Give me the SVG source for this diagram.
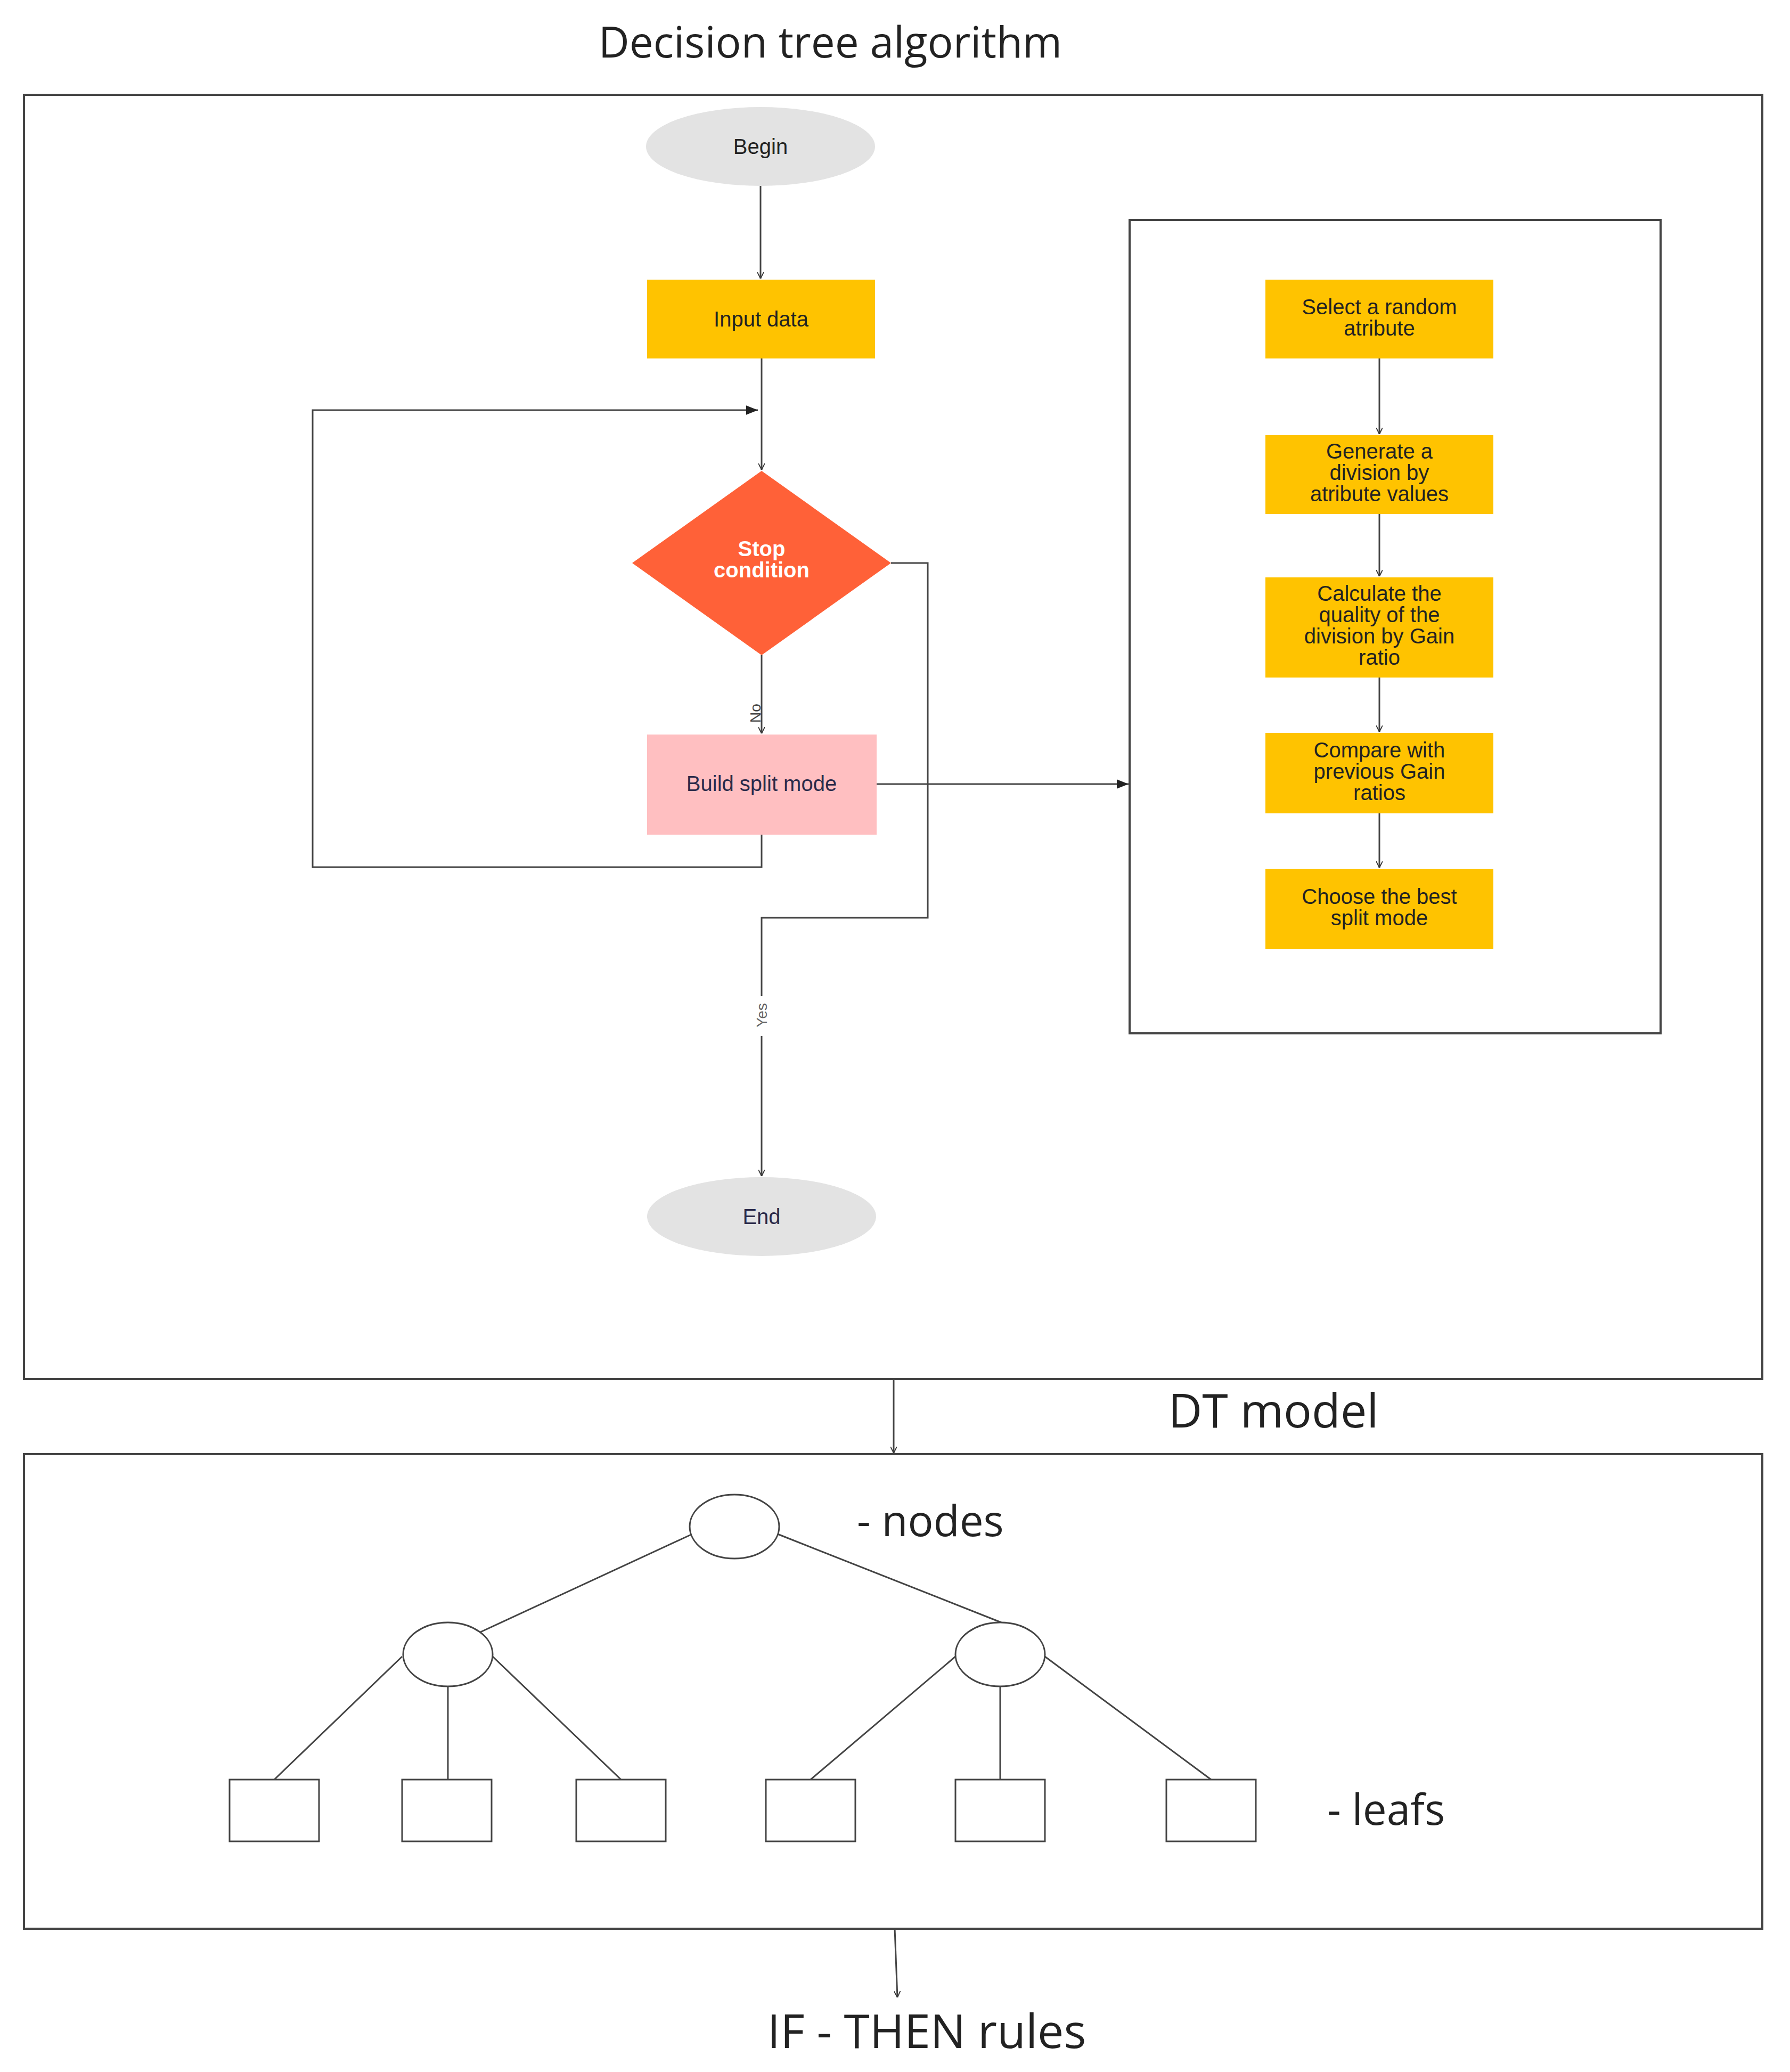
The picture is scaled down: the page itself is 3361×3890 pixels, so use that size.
<svg xmlns="http://www.w3.org/2000/svg" width="3361" height="3890" viewBox="0 0 3361 3890">
<defs>
<marker id="ah" viewBox="0 0 10 10" refX="10" refY="5" markerWidth="12" markerHeight="12" markerUnits="userSpaceOnUse" orient="auto"><path d="M0,0 L10,5 L0,10" fill="none" stroke="#333" stroke-width="1.5"/></marker>
<marker id="af" viewBox="0 0 10 10" refX="10" refY="5" markerWidth="22" markerHeight="22" markerUnits="userSpaceOnUse" orient="auto"><path d="M0,1 L10,5 L0,9 z" fill="#222"/></marker>
</defs>
<style>
.big{font-family:"Open Sans",sans-serif;fill:#222}
.t{font-family:"Liberation Sans",Arial,sans-serif;font-size:40px;text-anchor:middle;fill:#222}
.box{fill:none;stroke:#444;stroke-width:4}
.y{fill:#FFC300}
.ln{fill:none;stroke:#444;stroke-width:3}
.tr{fill:#fff;stroke:#444;stroke-width:3}
</style>
<rect width="3361" height="3890" fill="#fff"/>
<text class="big" x="1559" y="108" font-size="80" text-anchor="middle">Decision tree algorithm</text>
<rect class="box" x="45" y="178" width="3264" height="2411"/>
<rect class="box" x="2121" y="413" width="997" height="1527"/>
<g id="connectors">
<line class="ln" x1="1428" y1="349" x2="1428" y2="523" marker-end="url(#ah)"/>
<line class="ln" x1="1430" y1="673" x2="1430" y2="882" marker-end="url(#ah)"/>
<line class="ln" x1="1430" y1="1230" x2="1430" y2="1377" marker-end="url(#ah)"/>
<text x="1420" y="1339" font-family="Liberation Sans,sans-serif" font-size="28" fill="#444" text-anchor="middle" transform="rotate(-90 1420 1339)" dy="8">No</text>
<polyline class="ln" points="1430,1567 1430,1628 587,1628 587,770 1423,770" marker-end="url(#af)"/>
<polyline class="ln" points="1673,1057 1742,1057 1742,1723 1430,1723 1430,2208" marker-end="url(#ah)"/>
<rect x="1410" y="1870" width="40" height="75" fill="#fff"/>
<text x="1430" y="1906" font-family="Liberation Sans,sans-serif" font-size="28" fill="#666" text-anchor="middle" transform="rotate(-90 1430 1906)" dy="10">Yes</text>
<line class="ln" x1="1646" y1="1472" x2="2119" y2="1472" marker-end="url(#af)"/>
<line class="ln" x1="2590" y1="673" x2="2590" y2="815" marker-end="url(#ah)"/>
<line class="ln" x1="2590" y1="965" x2="2590" y2="1082" marker-end="url(#ah)"/>
<line class="ln" x1="2590" y1="1272" x2="2590" y2="1374" marker-end="url(#ah)"/>
<line class="ln" x1="2590" y1="1527" x2="2590" y2="1629" marker-end="url(#ah)"/>
<line class="ln" x1="1678" y1="2589" x2="1678" y2="2728" marker-end="url(#ah)"/>
<line class="ln" x1="1680" y1="3621" x2="1685" y2="3750" marker-end="url(#ah)"/>
<line class="ln" x1="1300" y1="2880" x2="900" y2="3065"/>
<line class="ln" x1="1460" y1="2880" x2="1880" y2="3046"/>
<line class="ln" x1="755" y1="3110" x2="515" y2="3341"/>
<line class="ln" x1="841" y1="3166" x2="841" y2="3341"/>
<line class="ln" x1="925" y1="3110" x2="1166" y2="3341"/>
<line class="ln" x1="1794" y1="3110" x2="1522" y2="3341"/>
<line class="ln" x1="1878" y1="3166" x2="1878" y2="3341"/>
<line class="ln" x1="1962" y1="3110" x2="2274" y2="3341"/>
</g>
<g id="begin"><ellipse cx="1428" cy="275" rx="215" ry="74" fill="#e3e3e3"/><text class="t" x="1428" y="289">Begin</text></g>
<g id="input"><rect class="y" x="1215" y="525" width="428" height="148"/><text class="t" x="1429" y="613">Input data</text></g>
<g id="stop"><polygon points="1430,884 1673,1057 1430,1230 1187,1057" fill="#FF6138"/><text class="t" x="1430" y="1044" fill="#fff" font-weight="bold" style="fill:#fff">Stop</text><text class="t" x="1430" y="1084" style="fill:#fff" font-weight="bold">condition</text></g>
<g id="build"><rect x="1215" y="1379" width="431" height="188" fill="#FFBFC1"/><text class="t" x="1430" y="1485" style="fill:#2a2a4a">Build split mode</text></g>
<g id="end"><ellipse cx="1430" cy="2284" rx="215" ry="74" fill="#e3e3e3"/><text class="t" x="1430" y="2298" style="fill:#2a2a4a">End</text></g>
<g id="s1"><rect class="y" x="2376" y="525" width="428" height="148"/><text class="t" x="2590" y="590">Select a random</text><text class="t" x="2590" y="630">atribute</text></g>
<g id="s2"><rect class="y" x="2376" y="817" width="428" height="148"/><text class="t" x="2590" y="861">Generate a</text><text class="t" x="2590" y="901">division by</text><text class="t" x="2590" y="941">atribute values</text></g>
<g id="s3"><rect class="y" x="2376" y="1084" width="428" height="188"/><text class="t" x="2590" y="1128">Calculate the</text><text class="t" x="2590" y="1168">quality of the</text><text class="t" x="2590" y="1208">division by Gain</text><text class="t" x="2590" y="1248">ratio</text></g>
<g id="s4"><rect class="y" x="2376" y="1376" width="428" height="151"/><text class="t" x="2590" y="1422">Compare with</text><text class="t" x="2590" y="1462">previous Gain</text><text class="t" x="2590" y="1502">ratios</text></g>
<g id="s5"><rect class="y" x="2376" y="1631" width="428" height="151"/><text class="t" x="2590" y="1697">Choose the best</text><text class="t" x="2590" y="1737">split mode</text></g>
<text class="big" x="2391" y="2680" font-size="88" text-anchor="middle">DT model</text>
<rect class="box" x="45" y="2730" width="3264" height="891"/>
<g id="tree">
<ellipse class="tr" cx="1379" cy="2866" rx="84" ry="60"/>
<ellipse class="tr" cx="841" cy="3106" rx="84" ry="60"/>
<ellipse class="tr" cx="1878" cy="3106" rx="84" ry="60"/>
<rect class="tr" x="431" y="3341" width="168" height="116"/>
<rect class="tr" x="755" y="3341" width="168" height="116"/>
<rect class="tr" x="1082" y="3341" width="168" height="116"/>
<rect class="tr" x="1438" y="3341" width="168" height="116"/>
<rect class="tr" x="1794" y="3341" width="168" height="116"/>
<rect class="tr" x="2190" y="3341" width="168" height="116"/>
</g>
<text class="big" x="1609" y="2884" font-size="80">- nodes</text>
<text class="big" x="2492" y="3426" font-size="80">- leafs</text>
<text class="big" x="1740" y="3845" font-size="88" text-anchor="middle">IF - THEN rules</text>
</svg>
